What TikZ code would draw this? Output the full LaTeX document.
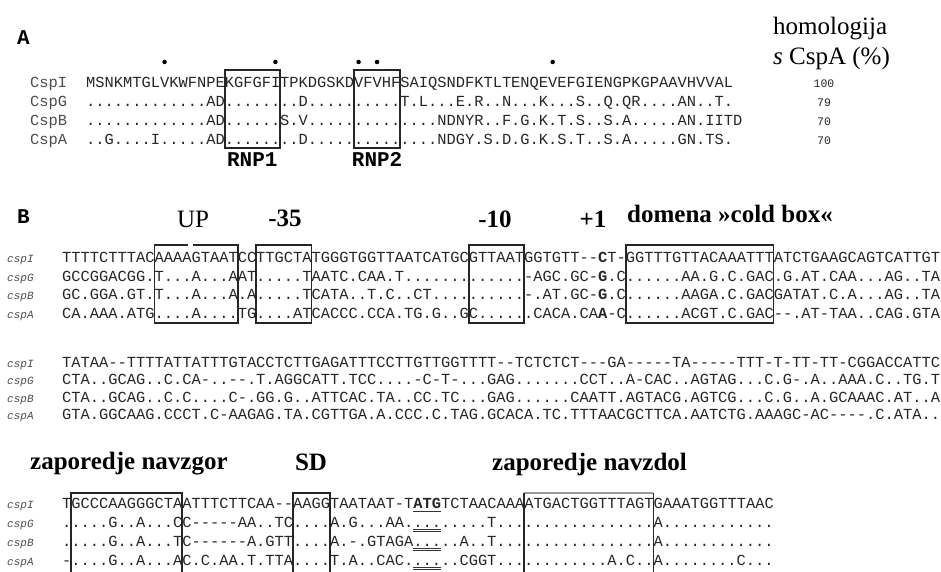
\documentclass[tikz,border=0pt]{standalone}
\usepackage{fontspec}
\setmainfont{Liberation Serif}
\setmonofont{Liberation Mono}
\usetikzlibrary{positioning}

\tikzset{
    alignment/.style={
        x=1pt, y=-1pt,
        seq/.style={anchor=base west, inner sep=0pt, text=black!85,
            font=\fontsize{15.4}{16}\selectfont\ttfamily},
        protname/.style={seq, text=black!70},
        seqname/.style={anchor=base west, inner sep=0pt, text=black!70,
            font=\fontsize{11}{12}\selectfont\ttfamily\itshape},
        percent/.style={anchor=base, inner sep=0pt, text=black!85,
            font=\fontsize{11.5}{12}\selectfont\ttfamily},
        panel/.style={anchor=base west, inner sep=0pt,
            font=\fontsize{21}{22}\selectfont\ttfamily\bfseries},
        motifname/.style={anchor=base, inner sep=0pt,
            font=\fontsize{21}{22}\selectfont\ttfamily\bfseries},
        heading/.style={anchor=base, inner sep=0pt,
            font=\fontsize{25}{26}\selectfont\bfseries},
        plainhead/.style={heading, font=\fontsize{25}{26}\selectfont},
        motif/.style={draw=black!85, line width=1.8pt},
        conserved/.style={circle, fill=black, inner sep=0pt, minimum size=4.5pt},
        startmark/.style={black!80, line width=0.9pt}
    }
}

\begin{document}
\begin{tikzpicture}[alignment]
    \useasboundingbox (0,0) rectangle (941,572);

    % Panel A: protein alignment
    \node[panel] (panA) at (17,45) {A};
    \node[plainhead, anchor=base west] (hom1) at (773,35) {homologija};
    \node[plainhead, anchor=base west] (hom2) at (773,65) {\textit{s} CspA (\%)};

    \foreach \i in {9,21,30,32,51}
        \node[conserved] (dot\i) at ({86+(\i-0.5)*9.24},62) {};

    \node[protname] (nCspI) at (30,87.5) {CspI};
    \node[protname] (nCspG) at (30,106.5) {CspG};
    \node[protname] (nCspB) at (30,125.5) {CspB};
    \node[protname] (nCspA) at (30,144.5) {CspA};

    \node[seq] (pCspI) at (86,87.5) {MSNKMTGLVKWFNPEKGFGFITPKDGSKDVFVHFSAIQSNDFKTLTENQEVEFGIENGPKGPAAVHVVAL};
    \node[seq] (pCspG) at (86,106.5) {.............AD........D..........T.L...E.R..N...K...S..Q.QR....AN..T.};
    \node[seq] (pCspB) at (86,125.5) {.............AD......S.V..............NDNYR..F.G.K.T.S..S.A.....AN.IITD};
    \node[seq] (pCspA) at (86,144.5) {..G....I.....AD........D..............NDGY.S.D.G.K.S.T..S.A.....GN.TS.};

    \node[percent] (hI) at (824,87.5) {100};
    \node[percent] (hG) at (824,106.5) {79};
    \node[percent] (hB) at (824,125.5) {70};
    \node[percent] (hA) at (824,144.5) {70};

    % RNP motifs
    \draw[motif] (224.6,70) rectangle (280.0,148);
    \draw[motif] (354.0,70) rectangle (400.2,148);
    \node[motifname] (rnp1) at (252.3,167) {RNP1};
    \node[motifname] (rnp2) at (377.1,167) {RNP2};

    % Panel B: promoter region
    \node[panel] (panB) at (17,223) {B};
    \node[plainhead] (up) at (193,227) {UP};
    \node[heading] (m35) at (285,226) {-35};
    \node[heading] (m10) at (495,227) {-10};
    \node[heading] (p1) at (593,227) {+1};
    \node[heading, anchor=base west] (cold) at (627,222) {domena »cold box«};

    \node[seqname] (bI) at (7,262) {cspI};
    \node[seqname] (bG) at (7,281) {cspG};
    \node[seqname] (bB) at (7,299.5) {cspB};
    \node[seqname] (bA) at (7,318) {cspA};

    \node[seq] (sI1) at (62,262) {TTTTCTTTACAAAAGTAATCCTTGCTATGGGTGGTTAATCATGCGTTAATGGTGTT--\textbf{C}T-GGTTTGTTACAAATTTATCTGAAGCAGTCATTGT};
    \node[seq] (sG1) at (62,281) {GCCGGACGG.T...A...AAT.....TAATC.CAA.T.............-AGC.GC-\textbf{G}.C......AA.G.C.GAC.G.AT.CAA...AG..TA};
    \node[seq] (sB1) at (62,299.5) {GC.GGA.GT.T...A...A.A.....TCATA..T.C..CT..........-.AT.GC-\textbf{G}.C......AAGA.C.GACGATAT.C.A...AG..TA};
    \node[seq] (sA1) at (62,318) {CA.AAA.ATG....A....TG....ATCACCC.CCA.TG.G..GC......CACA.CA\textbf{A}-C......ACGT.C.GAC--.AT-TAA..CAG.GTA};

    % promoter boxes
    \draw[motif] (188,245) -- (154.4,245) -- (154.4,323.3) -- (237.6,323.3) -- (237.6,245) -- (193,245);
    \draw[motif] (256.0,245) rectangle (311.5,323.3);
    \draw[motif] (468.6,245) rectangle (524.0,323.3);
    \draw[motif] (625.6,245) rectangle (773.5,323.3);

    \node[seqname] (cI) at (7,367) {cspI};
    \node[seqname] (cG) at (7,384.5) {cspG};
    \node[seqname] (cB) at (7,402) {cspB};
    \node[seqname] (cA) at (7,419.5) {cspA};

    \node[seq] (sI2) at (62,367) {TATAA--TTTTATTATTTGTACCTCTTGAGATTTCCTTGTTGGTTTT--TCTCTCT---GA-----TA-----TTT-T-TT-TT-CGGACCATTC};
    \node[seq] (sG2) at (62,384.5) {CTA..GCAG..C.CA-..--.T.AGGCATT.TCC....-C-T-...GAG.......CCT..A-CAC..AGTAG...C.G-.A..AAA.C..TG.T};
    \node[seq] (sB2) at (62,402) {CTA..GCAG..C.C....C-.GG.G..ATTCAC.TA..CC.TC...GAG......CAATT.AGTACG.AGTCG...C.G..A.GCAAAC.AT..A};
    \node[seq] (sA2) at (62,419.5) {GTA.GGCAAG.CCCT.C-AAGAG.TA.CGTTGA.A.CCC.C.TAG.GCACA.TC.TTTAACGCTTCA.AATCTG.AAAGC-AC----.C.ATA..};

    % Translation start region
    \node[heading, anchor=base west] (navzgor) at (30,469) {zaporedje navzgor};
    \node[heading] (sd) at (311,470) {SD};
    \node[heading, anchor=base west] (navzdol) at (492,470) {zaporedje navzdol};

    \node[seqname] (dI) at (7,508) {cspI};
    \node[seqname] (dG) at (7,527) {cspG};
    \node[seqname] (dB) at (7,546) {cspB};
    \node[seqname] (dA) at (7,565) {cspA};

    \node[seq] (sI3) at (62,508) {TGCCCAAGGGCTAATTTCTTCAA--AAGGTAATAAT-T\textbf{ATG}TCTAACAAAATGACTGGTTTAGTGAAATGGTTTAAC};
    \node[seq] (sG3) at (62,527) {.....G..A...CC-----AA..TC....A.G...AA.........T.................A............};
    \node[seq] (sB3) at (62,546) {.....G..A...TC------A.GTT....A.-.GTAGA.....A..T.................A............};
    \node[seq] (sA3) at (62,565) {-....G..A...AC.C.AA.T.TTA....T.A..CAC......CGGT............A.C..A........C...};

    % start codon underlines
    \draw[startmark] (413.2,511.5) -- (440.9,511.5);
    \foreach \r in {527,546,565} {
        \draw[startmark] (413.2,\r+2.5) -- (440.9,\r+2.5);
        \draw[startmark] (413.2,\r+4.5) -- (440.9,\r+4.5);
    }

    % upstream, SD and downstream boxes (open at the page edge)
    \draw[motif] (71.2,580) -- (71.2,493) -- (182.1,493) -- (182.1,580);
    \draw[motif] (293.0,580) -- (293.0,493) -- (330.0,493) -- (330.0,580);
    \draw[black!40, line width=1.2pt] (524.0,493) -- (653.4,493);
    \draw[motif] (524.0,493) -- (524.0,580);
    \draw[motif] (653.4,493) -- (653.4,580);
\end{tikzpicture}
\end{document}
